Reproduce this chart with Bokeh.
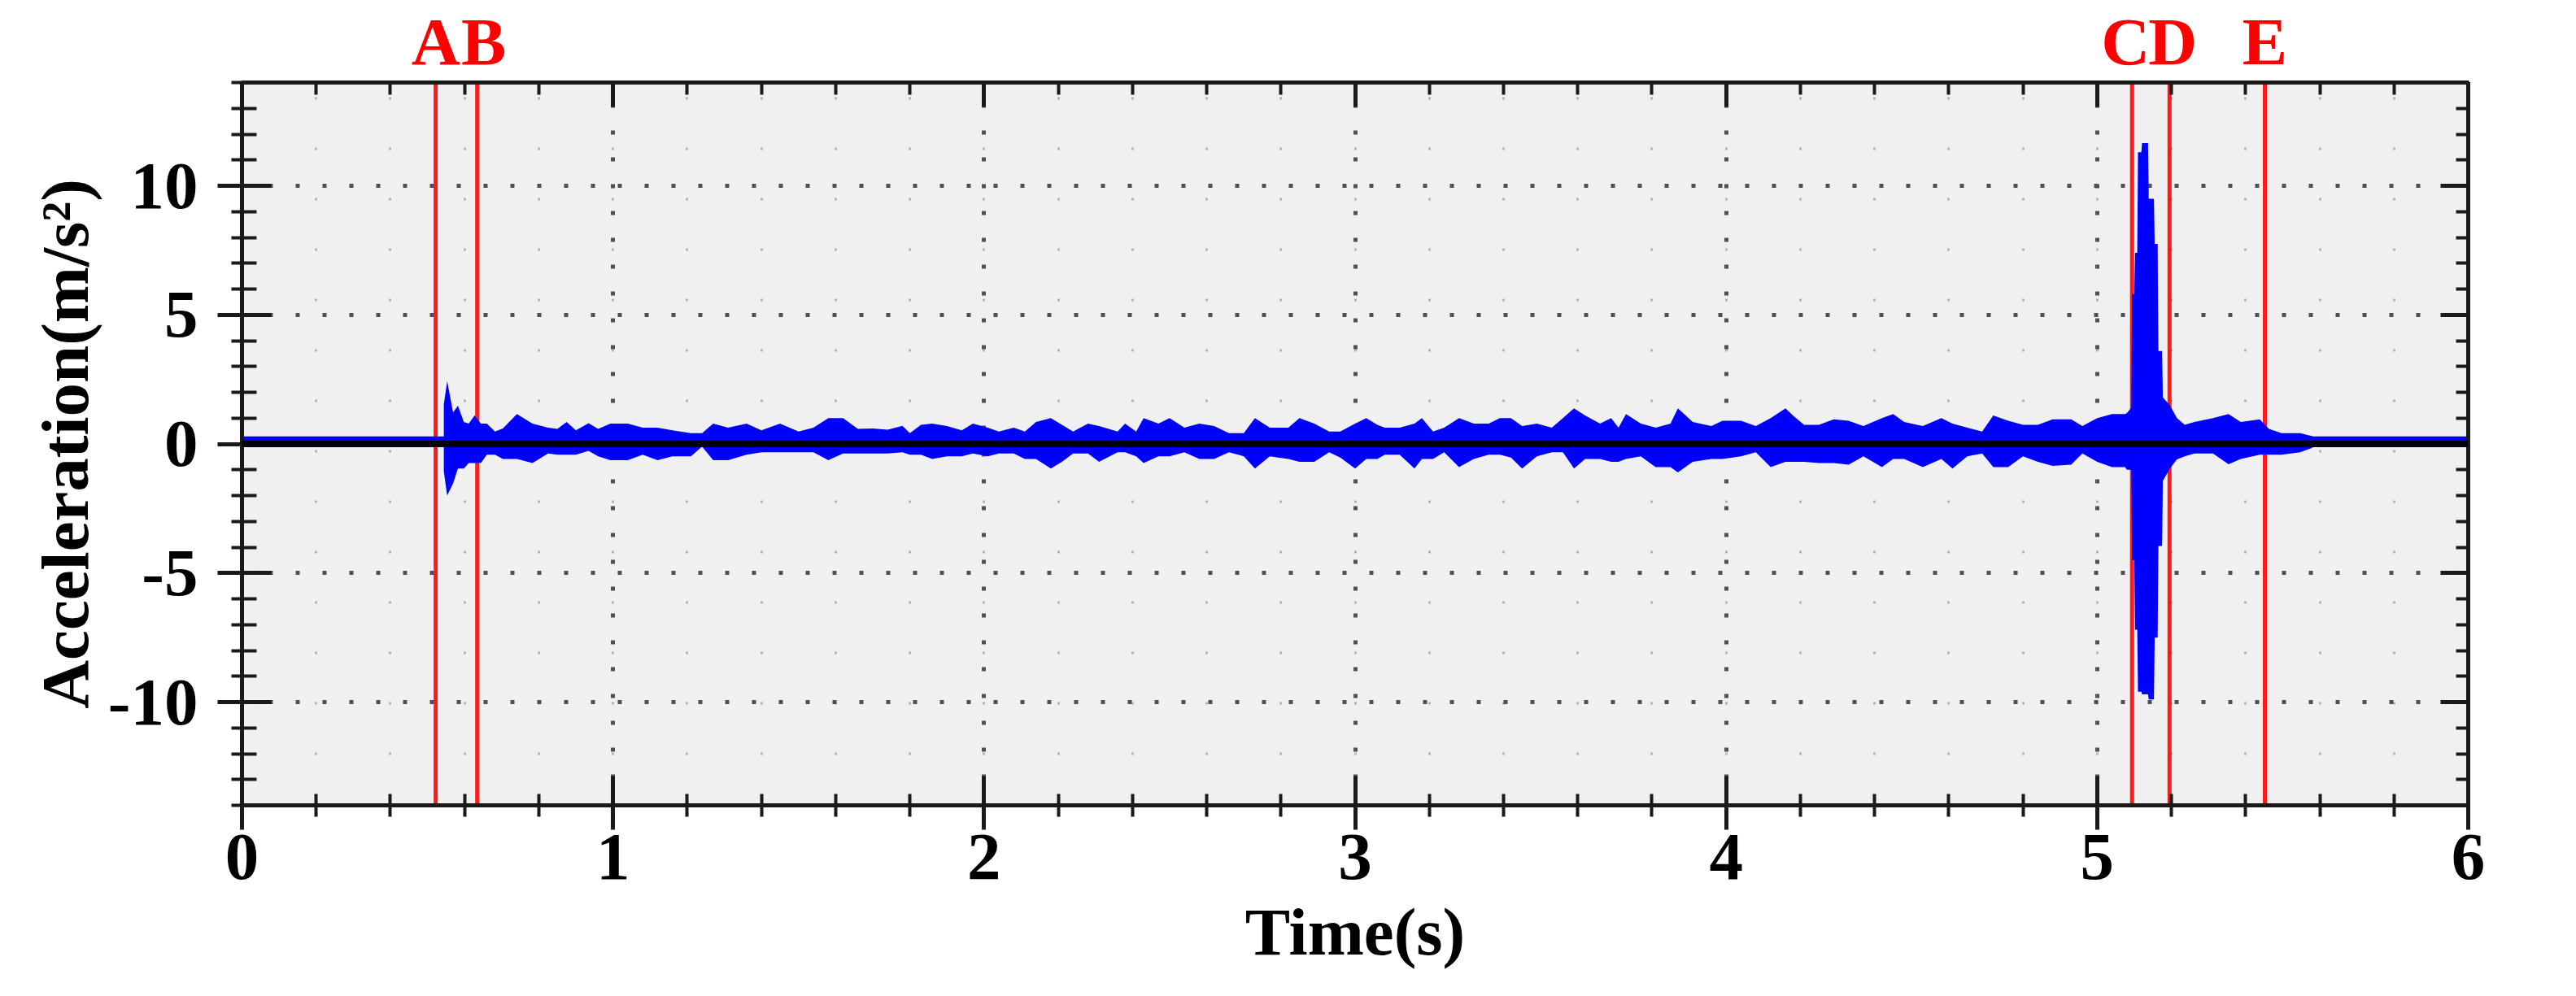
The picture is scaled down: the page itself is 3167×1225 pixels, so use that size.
from bokeh.plotting import figure
from bokeh.layouts import column
from bokeh.models import (Range1d, LinearAxis, SingleIntervalTicker, Span, ColumnDataSource,
                          CustomJSTickFormatter)
from bokeh.core.properties import value
from bokeh.embed import file_html
from bokeh.resources import INLINE

# ---- data ----
marker_names = ["A", "B", "C", "D", "E"]
marker_t = [0.522, 0.634, 5.094, 5.195, 5.452]

env_t = [0.544, 0.553, 0.569, 0.582, 0.598, 0.611, 0.627, 0.644, 0.660, 0.682, 0.703, 0.741, 0.783,
         0.825, 0.850, 0.875, 0.900, 0.934, 0.960, 0.993, 1.040, 1.080, 1.120, 1.160, 1.210, 1.240,
         1.270, 1.310, 1.360, 1.400, 1.450, 1.500, 1.540, 1.580, 1.620, 1.660, 1.700, 1.740, 1.780,
         1.800, 1.830, 1.860, 1.900, 1.940, 1.970, 2.010, 2.040, 2.080, 2.110, 2.140, 2.180, 2.210,
         2.240, 2.280, 2.310, 2.360, 2.380, 2.410, 2.430, 2.470, 2.500, 2.540, 2.580, 2.620, 2.660,
         2.700, 2.730, 2.770, 2.820, 2.850, 2.890, 2.930, 2.960, 3.000, 3.030, 3.060, 3.080, 3.120,
         3.160, 3.180, 3.210, 3.240, 3.280, 3.320, 3.360, 3.390, 3.420, 3.450, 3.490, 3.530, 3.560,
         3.590, 3.620, 3.660, 3.690, 3.710, 3.730, 3.770, 3.810, 3.850, 3.870, 3.910, 3.960, 3.990,
         4.040, 4.080, 4.120, 4.160, 4.180, 4.210, 4.250, 4.290, 4.330, 4.370, 4.420, 4.450, 4.480,
         4.530, 4.580, 4.610, 4.650, 4.690, 4.720, 4.760, 4.800, 4.840, 4.880, 4.930, 4.960, 5.000,
         5.040, 5.075, 5.080, 5.092, 5.094, 5.100, 5.102, 5.108, 5.110, 5.119, 5.121, 5.137, 5.139,
         5.153, 5.155, 5.163, 5.165, 5.175, 5.177, 5.196, 5.215, 5.236, 5.262, 5.312, 5.354, 5.387,
         5.438, 5.463, 5.497, 5.547, 5.580]
env_hi = [1.53, 2.43, 1.22, 1.48, 0.85, 0.79, 1.10, 0.79, 0.79, 0.48, 0.60, 1.16, 0.79,
          0.63, 0.58, 0.85, 0.53, 0.80, 0.58, 0.79, 0.79, 0.63, 0.63, 0.53, 0.42, 0.42,
          0.79, 0.63, 0.79, 0.53, 0.79, 0.48, 0.63, 1.00, 1.00, 0.58, 0.60, 0.55, 0.70,
          0.42, 0.74, 0.79, 0.69, 0.53, 0.79, 0.63, 0.48, 0.63, 0.48, 0.85, 1.00, 0.74,
          0.48, 0.79, 0.69, 0.48, 0.79, 0.48, 1.00, 0.79, 1.00, 0.63, 0.79, 0.69, 0.42,
          0.42, 1.00, 0.63, 0.63, 1.00, 0.79, 0.48, 0.48, 0.79, 1.00, 0.74, 0.63, 0.63,
          0.79, 1.00, 0.48, 0.63, 1.00, 0.79, 0.79, 1.00, 1.00, 0.69, 0.79, 0.63, 1.00,
          1.38, 1.10, 0.79, 1.00, 0.63, 1.16, 0.79, 0.63, 0.79, 1.38, 0.85, 0.69, 0.90,
          0.90, 0.69, 1.00, 1.38, 1.10, 0.74, 0.74, 0.95, 0.90, 0.69, 1.00, 1.16, 0.85,
          0.69, 1.00, 0.79, 0.63, 0.48, 1.10, 0.90, 0.74, 0.74, 0.95, 0.95, 0.69, 1.00,
          1.16, 1.16, 1.20, 1.40, 5.80, 5.80, 7.40, 7.40, 11.30, 11.30, 11.65, 11.65, 9.50,
          9.50, 7.75, 7.75, 3.60, 3.60, 1.80, 1.50, 1.00, 0.74, 0.85, 1.00, 1.16, 0.85,
          0.95, 0.58, 0.42, 0.42, 0.30]
env_lo = [-1.06, -2.00, -1.53, -0.95, -0.95, -0.74, -0.74, -0.74, -0.42, -0.42, -0.58, -0.58, -0.74,
          -0.37, -0.42, -0.42, -0.42, -0.27, -0.48, -0.63, -0.63, -0.42, -0.63, -0.48, -0.48, -0.10,
          -0.63, -0.63, -0.42, -0.32, -0.32, -0.32, -0.32, -0.63, -0.37, -0.37, -0.37, -0.37, -0.32,
          -0.42, -0.42, -0.58, -0.48, -0.48, -0.37, -0.48, -0.37, -0.37, -0.58, -0.58, -0.95, -0.69,
          -0.37, -0.37, -0.69, -0.32, -0.32, -0.48, -0.74, -0.48, -0.48, -0.32, -0.58, -0.58, -0.32,
          -0.48, -0.95, -0.48, -0.58, -0.69, -0.69, -0.32, -0.53, -0.95, -0.58, -0.58, -0.42, -0.42,
          -0.95, -0.58, -0.58, -0.32, -0.90, -0.58, -0.42, -0.42, -0.53, -0.95, -0.48, -0.32, -0.32,
          -0.95, -0.58, -0.58, -0.69, -0.69, -0.58, -0.48, -0.90, -0.90, -1.10, -0.69, -0.58, -0.58,
          -0.48, -0.32, -0.90, -0.69, -0.69, -0.69, -0.74, -0.74, -0.80, -0.48, -0.90, -0.58, -0.58,
          -0.90, -0.58, -0.95, -0.48, -0.37, -0.90, -0.90, -0.48, -0.69, -0.85, -0.80, -0.37, -0.69,
          -0.90, -0.90, -1.00, -1.00, -4.50, -4.50, -7.20, -7.20, -9.60, -9.60, -9.70, -9.70, -9.90,
          -9.90, -7.50, -7.50, -3.95, -3.95, -1.43, -0.95, -0.60, -0.48, -0.37, -0.37, -0.79, -0.58,
          -0.42, -0.42, -0.42, -0.32, -0.15]
rest_level = 0.2      # flat trace level outside the event
x_ticks_interval = 1
y_ticks_interval = 5

FONT = "Liberation Serif"
FS = "83px"
W = 3151
H_TOP = 98
H_MAIN = 1209 - H_TOP

# ---- strip above the frame holding the marker letters ----
tf = figure(width=W, height=H_TOP, x_range=Range1d(0, 6), y_range=Range1d(0, 1),
            output_backend="svg", toolbar_location=None, x_axis_location=None, y_axis_location=None,
            min_border_left=297, min_border_right=117, min_border_top=0, min_border_bottom=0)
tf.outline_line_color = None
tf.grid.visible = False
tf.background_fill_color = "white"
tf.border_fill_color = "white"

label_dx = [0, 8, -8, 4, 0]
lab_src = ColumnDataSource(dict(t=marker_t, name=marker_names, dx=label_dx))
tf.text(x="t", y=0.485, text="name", x_offset="dx", source=lab_src, text_align="center",
        text_baseline="middle", text_color="#ff0000", text_font=value(FONT),
        text_font_style="bold", text_font_size=FS)

# ---- main plot ----
p = figure(width=W, height=H_MAIN, x_range=tf.x_range, y_range=Range1d(-14, 14),
           output_backend="svg", toolbar_location=None,
           min_border_left=297, min_border_right=117, min_border_top=101 - H_TOP, min_border_bottom=219)
p.background_fill_color = "#f0f0f0"
p.border_fill_color = "white"
p.outline_line_color = "#1a1a1a"
p.outline_line_width = 5

xticker = SingleIntervalTicker(interval=x_ticks_interval, num_minor_ticks=5)
yticker = SingleIntervalTicker(interval=y_ticks_interval, num_minor_ticks=5)

p.xaxis.ticker = xticker
p.yaxis.ticker = yticker
p.xgrid.ticker = xticker
p.ygrid.ticker = yticker
plain = CustomJSTickFormatter(code="return String(tick)")
p.xaxis.formatter = plain
p.yaxis.formatter = plain

for ax in (p.xaxis[0], p.yaxis[0]):
    ax.axis_line_width = 5
    ax.axis_line_color = "#1a1a1a"
    ax.major_tick_line_width = 5
    ax.minor_tick_line_width = 4
    ax.major_tick_line_color = "#1a1a1a"
    ax.minor_tick_line_color = "#1a1a1a"
    ax.major_label_text_font = FONT
    ax.major_label_text_font_style = "bold"
    ax.major_label_text_font_size = FS
    ax.major_label_text_color = "black"
    ax.axis_label_text_font = FONT
    ax.axis_label_text_font_style = "bold"
    ax.axis_label_text_font_size = FS
    ax.axis_label_text_color = "black"

p.xaxis.major_tick_out = 30
p.xaxis.major_tick_in = 36
p.xaxis.minor_tick_out = 14
p.xaxis.minor_tick_in = 14
p.xaxis.major_label_standoff = 6
p.xaxis.axis_label = "Time(s)"
p.xaxis.axis_label_standoff = 16

p.yaxis.major_tick_out = 30
p.yaxis.major_tick_in = 36
p.yaxis.minor_tick_out = 13
p.yaxis.minor_tick_in = 18
p.yaxis.major_label_standoff = 24
p.yaxis.axis_label = "Acceleration(m/s\u00b2)"
p.yaxis.axis_label_standoff = 4

blank = CustomJSTickFormatter(code="return ''")
common = dict(formatter=blank, axis_line_width=5, axis_line_color="#1a1a1a",
              major_tick_out=0, minor_tick_out=0, minor_tick_in=15,
              major_tick_line_width=5, minor_tick_line_width=4,
              major_tick_line_color="#1a1a1a", minor_tick_line_color="#1a1a1a",
              major_label_standoff=0, major_label_text_font_size="1px")
top = LinearAxis(ticker=xticker, major_tick_in=30, **common)
right = LinearAxis(ticker=yticker, major_tick_in=34, **common)
p.add_layout(top, "above")
p.add_layout(right, "right")

# grid: dotted major lines, sparse light dots on minor x lines
for g in (p.xgrid[0], p.ygrid[0]):
    g.grid_line_color = "#505050"
    g.grid_line_width = 5
    g.grid_line_dash = "5 28"
p.xgrid.minor_grid_line_color = "#b4b4b4"
p.xgrid.minor_grid_line_width = 3
p.xgrid.minor_grid_line_dash = "3 59"

# event markers
for t in marker_t:
    p.add_layout(Span(location=t, dimension="height", line_color="#ff1a1a", line_width=5, level="underlay"))

# signal
p.add_layout(Span(location=rest_level, dimension="width", line_color="#0000ff", line_width=6, level="underlay"))
p.varea(x=env_t, y1=env_lo, y2=env_hi, fill_color="#0000ff", fill_alpha=1.0)
p.add_layout(Span(location=0, dimension="width", line_color="#000010", line_width=8))

layout = column(tf, p, spacing=0)
open("out.html", "w").write(file_html(layout, INLINE))
